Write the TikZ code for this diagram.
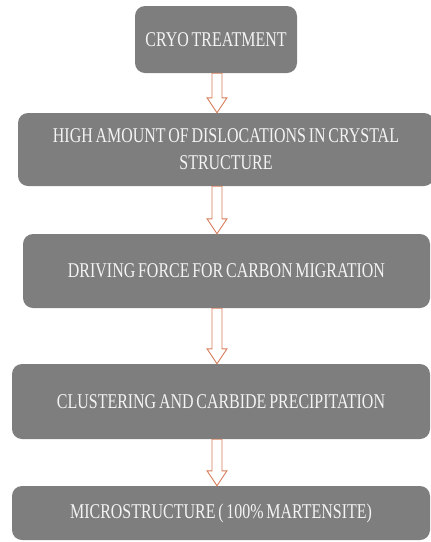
\documentclass[tikz,border=0pt]{standalone}
\usepackage{fontspec}
\setmainfont{Liberation Serif}[FakeStretch=0.76,WordSpace=0.7]
\usepackage{tikz}
\usepackage{xcolor}
\usetikzlibrary{calc}

\definecolor{boxgray}{RGB}{126,126,126}
\definecolor{boxtext}{RGB}{244,244,244}
\definecolor{arroworange}{RGB}{214,124,88}

\tikzset{
  stepbox/.style={fill=boxgray,rounded corners=10pt,text=boxtext,align=center,inner sep=0pt,
    font=\fontsize{21}{27}\selectfont},
  blockarrow/.style={draw=arroworange,fill=white,line width=0.9pt,
    to path={let \p1=(\tikztostart),\p2=(\tikztotarget) in
      (\x1-5pt,\y1) -- (\x1-5pt,\y2+15pt) -- (\x1-10pt,\y2+15pt) -- (\x2,\y2)
      -- (\x1+10pt,\y2+15pt) -- (\x1+5pt,\y2+15pt) -- (\x1+5pt,\y1) -- cycle}}
}

\begin{document}
\begin{tikzpicture}[x=1pt,y=-1pt]
\clip (0,0) rectangle (431,542);
\coordinate (axis) at (217,0);
\node[stepbox,minimum width=162,minimum height=67] (cryo) at (216,39.5) {CRYO TREATMENT};
\node[stepbox,minimum width=416,minimum height=73] (disloc) at (226,149.5) {HIGH AMOUNT OF DISLOCATIONS IN CRYSTAL\\STRUCTURE};
\node[stepbox,minimum width=407,minimum height=74] (driving) at (226.5,271) {DRIVING FORCE FOR CARBON MIGRATION};
\node[stepbox,minimum width=418,minimum height=75] (cluster) at (221,401.5) {CLUSTERING AND CARBIDE PRECIPITATION};
\node[stepbox,minimum width=418,minimum height=54] (micro) at (221,513) {MICROSTRUCTURE ( 100\% MARTENSITE)};
\draw[blockarrow] (axis |- cryo.south) to (axis |- disloc.north);
\draw[blockarrow] (axis |- disloc.south) to (axis |- driving.north);
\draw[blockarrow] (axis |- driving.south) to (axis |- cluster.north);
\draw[blockarrow] (axis |- cluster.south) to (axis |- micro.north);
\end{tikzpicture}
\end{document}
